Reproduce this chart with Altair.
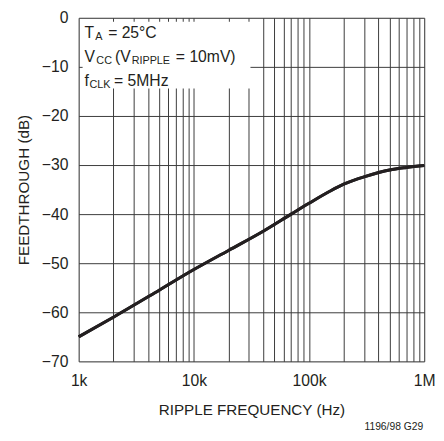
import altair as alt
import pandas as pd

# ---- data ----
freq_hz = [1000, 2000, 5000, 10000, 20000, 40000, 70000, 100000, 150000,
           200000, 250000, 300000, 500000, 700000, 1000000]
feedthrough_db = [-65, -61, -55.5, -51.3, -47.4, -43.5, -40.0, -37.8, -35.4,
                  -33.9, -33.0, -32.4, -31.0, -30.5, -30.1]

grid_freqs = [m * 10 ** e for e in range(3, 6) for m in range(1, 10)] + [1000000]
y_ticks = [-70, -60, -50, -40, -30, -20, -10, 0]

# annotation pieces: text, x px, y px (baseline), font size
ann_text = ["T", "A", "= 25°C",
            "V", "CC", "(V", "RIPPLE", "= 10mV)",
            "f", "CLK", "= 5MHz"]
ann_x = [6, 17, 30, 6, 18, 37, 54, 99, 6, 11, 36]
ann_y = [20.5, 23, 20.5, 45, 47.5, 45, 47.5, 45, 69.5, 72, 69.5]
ann_size = [16, 11, 16, 16, 11, 16, 11, 16, 16, 11, 16]

FONT = "Liberation Sans, Arial, Helvetica, sans-serif"
INK = "#231f20"

df = pd.DataFrame({"f": freq_hz, "db": feedthrough_db})
ann = pd.DataFrame({"t": ann_text, "px": ann_x, "py": ann_y, "s": ann_size})

x_scale = alt.Scale(type="log", domain=[1000, 1000000], nice=False)
y_scale = alt.Scale(domain=[-70, 0], nice=False, zero=False)

x_axis = alt.Axis(
    values=grid_freqs,
    labelExpr="datum.value==1000?'1k':datum.value==10000?'10k':datum.value==100000?'100k':datum.value==1000000?'1M':''",
    ticks=False, domain=False, grid=True, gridColor="#3a3a3a", gridWidth=1,
    gridOpacity=1, labelFont=FONT, labelFontSize=16, labelColor=INK,
    labelPadding=12, title="RIPPLE FREQUENCY (Hz)", titleFont=FONT,
    titleFontSize=15.5, titleFontWeight="normal", titleColor=INK,
    titleY=54, titleBaseline="alphabetic", labelFlush=False, labelOverlap=False,
)
y_axis = alt.Axis(
    values=y_ticks, ticks=False, domain=False, grid=True, gridColor="#3a3a3a",
    gridWidth=1, gridOpacity=1, labelFont=FONT, labelFontSize=16,
    labelColor=INK, labelPadding=11, title="FEEDTHROUGH (dB)",
    titleFont=FONT, titleFontSize=15.5, titleFontWeight="normal",
    titleColor=INK, titleX=-51, titleY=175, titleBaseline="alphabetic",
    labelFlush=False,
)

line = alt.Chart(df).mark_line(color=INK, strokeWidth=3,
                               interpolate="monotone").encode(
    x=alt.X("f:Q", scale=x_scale, axis=x_axis),
    y=alt.Y("db:Q", scale=y_scale, axis=y_axis),
)

box = alt.Chart(pd.DataFrame({"a": [0]})).mark_rect(color="white").encode(
    x=alt.value(4), x2=alt.value(175), y=alt.value(4), y2=alt.value(72)
)

texts = alt.Chart(ann).mark_text(align="left", baseline="alphabetic",
                                 font=FONT, color=INK).encode(
    x=alt.X("px:Q", scale=None),
    y=alt.Y("py:Q", scale=None),
    text="t:N",
    size=alt.Size("s:Q", scale=None),
)

foot = alt.Chart(pd.DataFrame({"t": ["1196/98 G29"]})).mark_text(
    align="right", baseline="alphabetic", font=FONT, fontSize=10.5,
    color=INK).encode(x=alt.value(351), y=alt.value(420), text="t:N")

chart = alt.layer(line, box, line, texts, foot).properties(
    width=352, height=350,
    autosize=alt.AutoSizeParams(type="none"),
    padding={"left": 72, "top": 6, "right": 12, "bottom": 70},
).configure_view(stroke=INK, strokeWidth=2).configure(background="white")

chart.save("out.html", embed_options={"renderer": "svg", "actions": False})
